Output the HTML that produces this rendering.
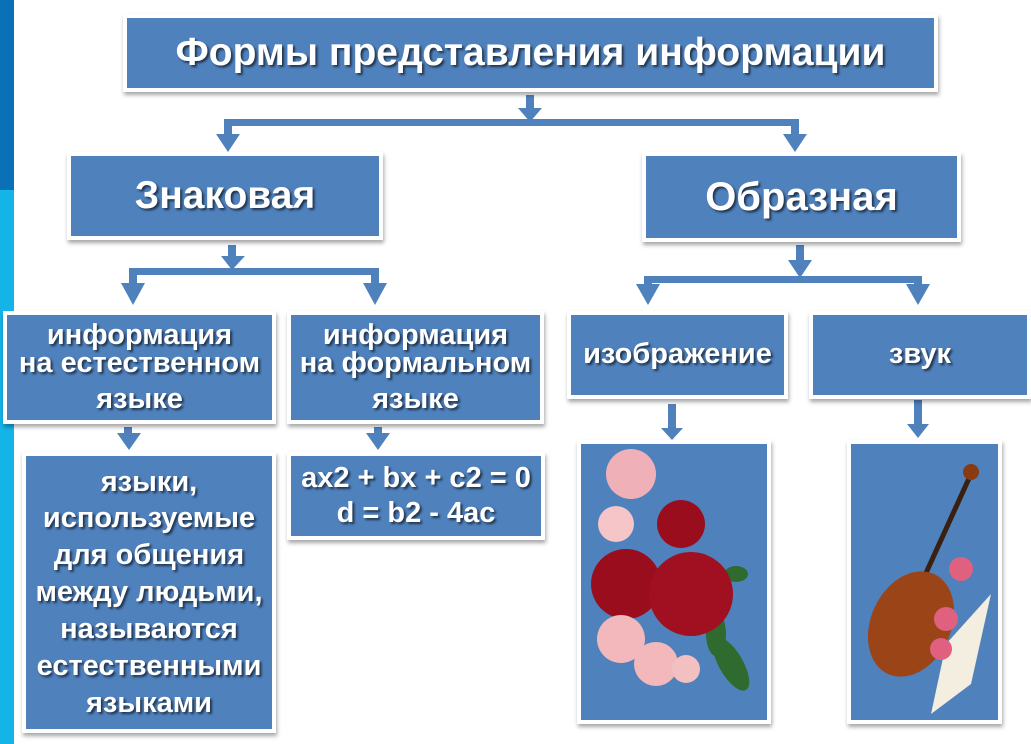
<!DOCTYPE html>
<html><head><meta charset="utf-8"><style>
body{margin:0;width:1031px;height:744px;background:#fff;position:relative;overflow:hidden;font-family:"Liberation Sans",sans-serif}
.b{position:absolute;background:#4f81bd;border:4px solid #fff;box-shadow:1px 3px 4px rgba(0,0,0,.35);box-sizing:border-box;color:#fff;font-weight:bold;text-align:center;text-shadow:2px 2px 2px rgba(0,0,0,.6);display:flex;align-items:center;justify-content:center;line-height:1.3;white-space:nowrap}
.t{display:block;position:absolute;left:0;right:0;text-align:center}
svg{position:absolute;left:0;top:0}
</style></head><body>
<div style="position:absolute;left:0;top:0;width:14px;height:190px;background:#0a70b8"></div>
<div style="position:absolute;left:0;top:190px;width:14px;height:554px;background:#14b4e8"></div>
<svg width="1031" height="744">
<g fill="#4f81bd">
<rect x="526" y="95" width="8" height="15"/><polygon points="518,108 542,108 530,122"/>
<rect x="224" y="119" width="575" height="7"/>
<rect x="224" y="119" width="8" height="20"/><polygon points="216,134 240,134 228,152"/>
<rect x="791" y="119" width="8" height="20"/><polygon points="783,134 807,134 795,152"/>
<rect x="228" y="245" width="8" height="14"/><polygon points="221,256 245,256 232,270"/>
<rect x="129" y="268" width="250" height="7"/>
<rect x="129" y="268" width="8" height="20"/><polygon points="121,283 145,283 133,305"/>
<rect x="371" y="268" width="8" height="20"/><polygon points="363,283 387,283 375,305"/>
<rect x="796" y="245" width="8" height="18"/><polygon points="788,260 812,260 800,278"/>
<rect x="644" y="276" width="278" height="7"/>
<rect x="644" y="276" width="8" height="12"/><polygon points="636,284 660,284 648,305"/>
<rect x="914" y="276" width="8" height="12"/><polygon points="906,284 930,284 918,305"/>
<rect x="124" y="427" width="8" height="8"/><polygon points="117,433 141,433 129,450"/>
<rect x="374" y="427" width="8" height="8"/><polygon points="366,433 390,433 378,450"/>
<rect x="668" y="404" width="8" height="26"/><polygon points="661,428 683,428 672,440"/>
<rect x="914" y="400" width="8" height="26"/><polygon points="907,424 929,424 918,438"/>
</g>
</svg>
<div class="b" style="left:123px;top:14px;width:815px;height:78px;font-size:39px">Формы представления информации</div>
<div class="b" style="left:67px;top:152px;width:316px;height:88px;font-size:39px">Знаковая</div>
<div class="b" style="left:642px;top:152px;width:319px;height:90px;font-size:40px">Образная</div>
<div class="b" style="left:3px;top:311px;width:273px;height:113px;font-size:29px;display:block"><span class="t" style="top:2px">информация</span><span class="t" style="top:30px">на естественном</span><span class="t" style="top:66px">языке</span></div>
<div class="b" style="left:287px;top:311px;width:257px;height:113px;font-size:29px;display:block"><span class="t" style="top:2px">информация</span><span class="t" style="top:30px">на формальном</span><span class="t" style="top:66px">языке</span></div>
<div class="b" style="left:567px;top:311px;width:221px;height:88px;font-size:29px">изображение</div>
<div class="b" style="left:809px;top:311px;width:222px;height:88px;font-size:29px">звук</div>
<div class="b" style="left:22px;top:452px;width:254px;height:281px;font-size:29px;line-height:1.27">языки,<br>используемые<br>для общения<br>между людьми,<br>называются<br>естественными<br>языками</div>
<div class="b" style="left:287px;top:452px;width:258px;height:88px;font-size:29px;line-height:1.2">ax2 + bx + c2 = 0<br>d = b2 - 4ac</div>
<div class="b" style="left:577px;top:440px;width:194px;height:284px"><svg width="186" height="276" style="left:0;top:0">
<g fill="#2f6b2f"><ellipse cx="150" cy="220" rx="12" ry="30" transform="rotate(-30 150 220)"/><ellipse cx="135" cy="190" rx="10" ry="22"/><ellipse cx="155" cy="130" rx="12" ry="8"/></g>
<circle cx="50" cy="30" r="25" fill="#f0b0b8"/><circle cx="35" cy="80" r="18" fill="#f5c5c8"/>
<circle cx="100" cy="80" r="24" fill="#9a0d1c"/><circle cx="45" cy="140" r="35" fill="#9a0d1c"/><circle cx="110" cy="150" r="42" fill="#a01020"/>
<circle cx="40" cy="195" r="24" fill="#f2b8bc"/><circle cx="75" cy="220" r="22" fill="#f2b8bc"/><circle cx="105" cy="225" r="14" fill="#f2c0c0"/>
</svg></div>
<div class="b" style="left:847px;top:440px;width:155px;height:284px"><svg width="147" height="276" style="left:0;top:0">
<polygon points="95,200 140,150 120,240 80,270" fill="#f3eee0"/>
<line x1="120" y1="30" x2="70" y2="140" stroke="#3a2010" stroke-width="5"/><circle cx="120" cy="28" r="8" fill="#8a3a10"/>
<ellipse cx="60" cy="180" rx="40" ry="55" fill="#9a4418" transform="rotate(25 60 180)"/>
<circle cx="110" cy="125" r="12" fill="#e06080"/><circle cx="95" cy="175" r="12" fill="#e06080"/><circle cx="90" cy="205" r="11" fill="#e06080"/>
</svg></div>
</body></html>
